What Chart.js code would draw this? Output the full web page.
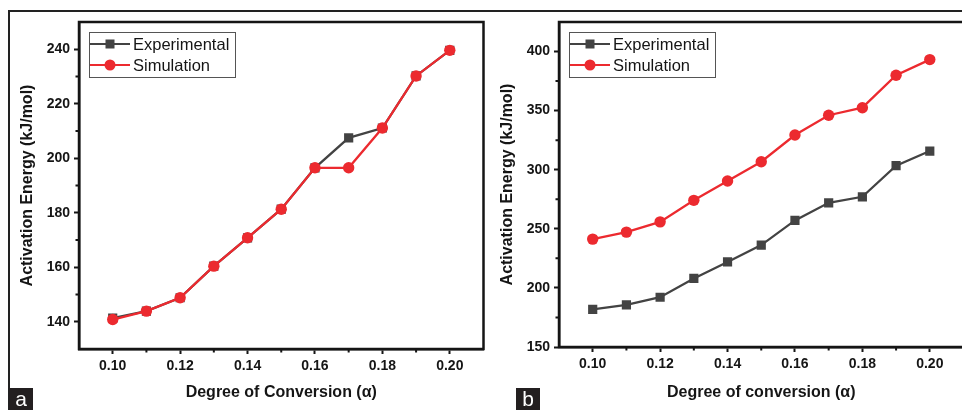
<!DOCTYPE html>
<html lang="en">
<head>
    <meta charset="UTF-8">
    <title>Activation Energy vs Degree of Conversion</title>
    <script src="https://cdn.jsdelivr.net/npm/chart.js"></script>
    <style>
        body {
            margin: 0;
            background-color: #fff;
            font-family: 'Liberation Sans', Arial, sans-serif;
        }
        .figure {
            position: relative;
            width: 962px;
            height: 410px;
            overflow: hidden;
        }
        .frame {
            position: absolute;
            left: 8px;
            top: 10px;
            width: 960px;
            height: 410px;
            border-top: 2px solid #222;
            border-left: 2px solid #222;
        }
        .panel {
            position: absolute;
            top: 0;
            width: 480px;
            height: 410px;
        }
        .tag {
            position: absolute;
            background-color: #231f20;
            color: #fff;
            font-size: 21px;
            line-height: 22px;
            text-align: center;
            width: 24px;
            height: 22px;
        }
    </style>
</head>
<body>

<div class="figure">
    <div class="frame"></div>
    <!-- Panel a -->
    <div class="panel" style="left:10px"><canvas id="chartA" width="480" height="410"></canvas></div>
    <!-- Panel b -->
    <div class="panel" style="left:490px"><canvas id="chartB" width="480" height="410"></canvas></div>
    <div class="tag" style="left:9px; top:388px">a</div>
    <div class="tag" style="left:516px; top:388px">b</div>
</div>

<script>
    // Data
    const alphaValues = [0.10, 0.11, 0.12, 0.13, 0.14, 0.15, 0.16, 0.17, 0.18, 0.19, 0.20];
    const seriesNames = ['Experimental', 'Simulation'];

    const expA = [141.3, 143.9, 148.8, 160.4, 170.8, 181.3, 196.5, 207.5, 211.1, 230.2, 239.6];
    const simA = [140.8, 143.9, 148.8, 160.4, 170.8, 181.3, 196.5, 196.5, 211.1, 230.2, 239.6];

    const expB = [181.9, 185.6, 192.1, 208.0, 222.0, 236.2, 257.1, 272.0, 277.1, 303.4, 315.8];
    const simB = [241.3, 247.2, 255.9, 274.1, 290.4, 306.8, 329.4, 346.1, 352.5, 380.0, 393.2];

    // Tick values
    const xTicks = [0.10, 0.12, 0.14, 0.16, 0.18, 0.20];
    const xMinor = [0.11, 0.13, 0.15, 0.17, 0.19];
    const yTicksA = [140, 160, 180, 200, 220, 240];
    const yMinorA = [150, 170, 190, 210, 230];
    const yTicksB = [150, 200, 250, 300, 350, 400];
    const yMinorB = [175, 225, 275, 325, 375];

    const FONT = "'Liberation Sans', Arial, sans-serif";
    const INK = '#151515';
    const GREY = '#434343';
    const RED = '#ec2a2f';

    // frame on all four sides, minor ticks and legend inside the plot
    const framePlugin = {
        id: 'frame',
        afterDraw(chart, args, opts) {
            const ctx = chart.ctx;
            const a = chart.chartArea;
            const xs = chart.scales.x, ys = chart.scales.y;
            ctx.save();
            ctx.strokeStyle = INK;
            ctx.lineWidth = 2.5;
            ctx.strokeRect(a.left, a.top, a.right - a.left, a.bottom - a.top);

            ctx.lineWidth = 2;
            ctx.beginPath();
            opts.xMinor.forEach(v => {
                const px = xs.getPixelForValue(v);
                ctx.moveTo(px, a.bottom);
                ctx.lineTo(px, a.bottom + 3.5);
            });
            opts.yMinor.forEach(v => {
                const py = ys.getPixelForValue(v);
                ctx.moveTo(a.left, py);
                ctx.lineTo(a.left - 3.5, py);
            });
            ctx.stroke();

            // legend box
            const bx = a.left + opts.legendDx, by = a.top + opts.legendDy;
            ctx.lineWidth = 1;
            ctx.strokeStyle = '#555';
            ctx.fillStyle = '#fff';
            ctx.fillRect(bx, by, 146, 45);
            ctx.strokeRect(bx + 0.5, by + 0.5, 146, 45);
            chart.data.datasets.forEach((ds, i) => {
                const ry = by + 12 + i * 21;
                ctx.strokeStyle = ds.borderColor;
                ctx.lineWidth = 2;
                ctx.beginPath();
                ctx.moveTo(bx + 1, ry);
                ctx.lineTo(bx + 41, ry);
                ctx.stroke();
                ctx.fillStyle = ds.pointBackgroundColor;
                if (ds.pointStyle === 'rect') {
                    ctx.fillRect(bx + 16.5, ry - 4.5, 9, 9);
                } else {
                    ctx.beginPath();
                    ctx.arc(bx + 21, ry, 5.5, 0, Math.PI * 2);
                    ctx.fill();
                }
                ctx.fillStyle = INK;
                ctx.font = '16.5px ' + FONT;
                ctx.textBaseline = 'middle';
                ctx.fillText(ds.label, bx + 44, ry + 1);
            });
            ctx.restore();
        }
    };

    function createPanel(canvasId, exp, sim, yMin, yMax, yTicks, yMinor, xTitle, xHeight) {
        const ctx = document.getElementById(canvasId).getContext('2d');
        return new Chart(ctx, {
            type: 'line',
            data: {
                datasets: [{
                    label: seriesNames[0],
                    data: alphaValues.map((a, i) => ({x: a, y: exp[i]})),
                    borderColor: GREY,
                    backgroundColor: GREY,
                    pointBackgroundColor: GREY,
                    pointBorderWidth: 0,
                    pointStyle: 'rect',
                    pointRadius: 6.5,
                    borderWidth: 2.3,
                    order: 1
                }, {
                    label: seriesNames[1],
                    data: alphaValues.map((a, i) => ({x: a, y: sim[i]})),
                    borderColor: RED,
                    backgroundColor: RED,
                    pointBackgroundColor: RED,
                    pointBorderWidth: 0,
                    pointStyle: 'circle',
                    pointRadius: 5.7,
                    borderWidth: 2.3,
                    order: 0
                }]
            },
            options: {
                responsive: false,
                animation: false,
                layout: { padding: { top: 22, right: 6, left: 0, bottom: 0 } },
                scales: {
                    x: {
                        type: 'linear',
                        min: 0.09,
                        max: 0.21,
                        afterBuildTicks: s => { s.ticks = xTicks.map(v => ({value: v})); },
                        afterFit: s => { s.height = xHeight; },
                        border: { display: true, color: INK, width: 2.5 },
                        grid: { drawOnChartArea: false, drawTicks: true, tickLength: 5, tickColor: INK, tickWidth: 2 },
                        ticks: {
                            padding: 4,
                            color: INK,
                            font: { family: FONT, size: 14, weight: 'bold' },
                            callback: v => v.toFixed(2)
                        },
                        title: {
                            display: true,
                            text: xTitle,
                            color: INK,
                            padding: { top: 0, bottom: 8 },
                            font: { family: FONT, size: 16, weight: 'bold' }
                        }
                    },
                    y: {
                        min: yMin,
                        max: yMax,
                        afterBuildTicks: s => { s.ticks = yTicks.map(v => ({value: v})); },
                        afterFit: s => { s.width = 69; },
                        border: { display: true, color: INK, width: 2.5 },
                        grid: { drawOnChartArea: false, drawTicks: true, tickLength: 5, tickColor: INK, tickWidth: 2 },
                        ticks: {
                            padding: 4,
                            color: INK,
                            font: { family: FONT, size: 14, weight: 'bold' }
                        },
                        title: {
                            display: true,
                            text: 'Activation Energy (kJ/mol)',
                            color: INK,
                            padding: { top: 8, bottom: 0 },
                            font: { family: FONT, size: 16, weight: 'bold' }
                        }
                    }
                },
                plugins: {
                    legend: { display: false },
                    tooltip: { enabled: false },
                    frame: { xMinor: xMinor, yMinor: yMinor, legendDx: 10, legendDy: 10 }
                }
            },
            plugins: [framePlugin]
        });
    }

    createPanel('chartA', expA, simA, 130, 250, yTicksA, yMinorA, 'Degree of Conversion (α)', 61);
    createPanel('chartB', expB, simB, 150, 425, yTicksB, yMinorB, 'Degree of conversion (α)', 63);
</script>

</body>
</html>
